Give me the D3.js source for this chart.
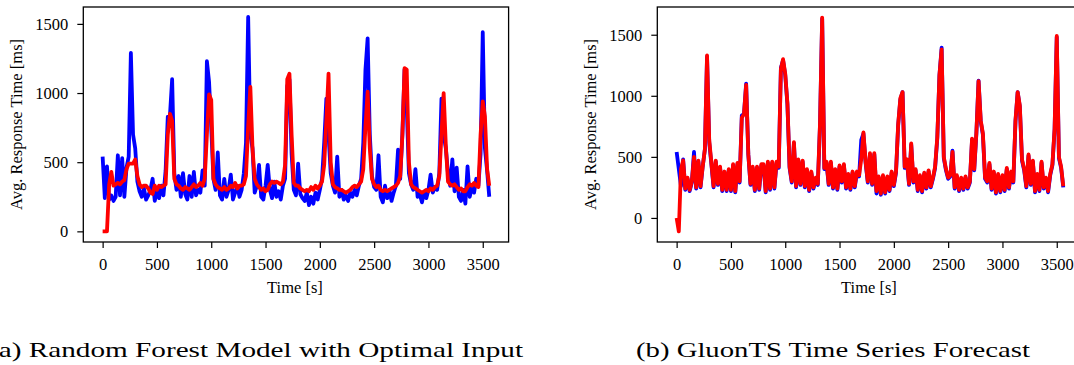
<!DOCTYPE html>
<html>
<head>
<meta charset="utf-8">
<script src="https://cdn.jsdelivr.net/npm/d3@7"></script>
<style>
  body { margin: 0; background: #fff; }
  svg { display: block; }
  text { font-family: "Liberation Serif", "Times New Roman", serif; fill: #000; }
</style>
</head>
<body>
<div id="chart"></div>
<script>

// sample step is 20 s, from 0 to 3560 s
var step = 20;

// (a) random forest: measured (blue) and predicted (red) response time [ms]
var rfActual = [
  540, 240, 470, 230, 260, 220, 250, 550, 260, 530,
  250, 460, 540, 1290, 700, 600, 360, 290, 250, 310,
  230, 260, 300, 380, 220, 300, 240, 330, 260, 440,
  830, 840, 1100, 420, 300, 400, 250, 420, 270, 230,
  400, 250, 430, 260, 300, 280, 440, 330, 1230, 1080,
  750, 380, 300, 570, 260, 230, 380, 250, 300, 410,
  230, 280, 330, 250, 300, 420, 640, 1550, 700, 600,
  280, 330, 480, 250, 230, 330, 480, 300, 240, 360,
  250, 290, 230, 330, 380, 1050, 1100, 560, 300, 260,
  490, 270, 240, 220, 280, 190, 250, 200, 280, 230,
  300, 380, 640, 960, 700, 420, 330, 280, 540, 250,
  300, 230, 260, 220, 280, 250, 300, 260, 330, 380,
  640, 1170, 1395, 700, 400, 320, 300, 550, 250, 210,
  330, 240, 300, 220, 280, 330, 590, 380, 700, 1170,
  900, 420, 340, 300, 450, 250, 270, 210, 280, 240,
  300, 410, 280, 320, 300, 420, 960, 700, 600, 420,
  330, 520, 290, 460, 250, 220, 300, 200, 470, 250,
  320, 280, 380, 330, 560, 1440, 600, 440, 250
];
var rfPredicted = [
  0, 0, 0, 340, 430, 330, 340, 350, 340, 360,
  370, 450, 490, 490, 490, 520, 400, 340, 320, 330,
  330, 310, 280, 270, 330, 300, 330, 320, 330, 340,
  700, 850, 800, 380, 340, 330, 310, 300, 320, 310,
  300, 320, 340, 320, 330, 350, 330, 380, 700, 990,
  950, 380, 340, 320, 310, 300, 320, 300, 310, 330,
  320, 350, 310, 330, 330, 340, 400, 760, 1045, 600,
  380, 340, 320, 300, 310, 290, 300, 340, 360, 350,
  360, 350, 340, 360, 480, 1100, 1140, 700, 350, 330,
  330, 310, 300, 290, 300, 290, 320, 300, 330, 310,
  330, 360, 480, 800, 1140, 500, 340, 320, 310, 300,
  300, 290, 280, 290, 300, 320, 330, 320, 340, 360,
  450, 760, 1010, 600, 380, 340, 320, 330, 300, 290,
  300, 290, 300, 310, 320, 330, 350, 400, 700, 1180,
  1170, 500, 340, 320, 310, 300, 290, 280, 290, 300,
  290, 310, 300, 320, 330, 400, 700, 1000, 620, 360,
  340, 330, 340, 320, 300, 310, 290, 290, 320, 340,
  330, 350, 330, 320, 700, 940, 830, 450, 330
];

// (b) gluonts: measured (blue) and forecast (red) response time [ms]
var gtActual = [
  540, 400, 260, 480, 230, 320, 220, 290, 540, 240,
  460, 250, 420, 560, 1320, 620, 440, 250, 460, 270,
  410, 220, 370, 220, 390, 220, 430, 210, 440, 290,
  840, 850, 1100, 520, 270, 410, 220, 410, 230, 430,
  430, 210, 450, 230, 450, 240, 450, 410, 1230, 1290,
  1170, 930, 410, 290, 610, 250, 470, 270, 460, 250,
  390, 220, 370, 240, 320, 270, 760, 1630, 400, 450,
  270, 450, 240, 390, 230, 420, 290, 430, 240, 350,
  230, 370, 250, 370, 340, 640, 690, 450, 290, 520,
  270, 520, 200, 330, 190, 340, 200, 330, 220, 370,
  260, 370, 760, 970, 1030, 410, 470, 270, 600, 290,
  390, 220, 340, 210, 360, 240, 380, 250, 320, 410,
  650, 1170, 1395, 490, 390, 320, 340, 550, 240, 340,
  220, 320, 230, 330, 240, 290, 640, 390, 690, 1125,
  790, 680, 320, 290, 440, 230, 370, 200, 350, 210,
  340, 220, 400, 240, 370, 290, 790, 1030, 910, 470,
  390, 250, 510, 270, 460, 210, 350, 220, 450, 240,
  320, 210, 350, 430, 720, 1480, 490, 410, 250
];
var gtForecast = [
  0, -110, 400, 470, 240, 330, 230, 300, 500, 250,
  470, 260, 420, 560, 1330, 640, 450, 260, 470, 280,
  420, 230, 380, 230, 400, 230, 440, 220, 450, 300,
  820, 850, 1090, 520, 280, 420, 230, 420, 240, 440,
  440, 220, 460, 240, 460, 250, 460, 420, 1220, 1300,
  1180, 940, 420, 300, 620, 260, 480, 280, 470, 260,
  400, 230, 380, 250, 330, 280, 770, 1640, 410, 460,
  280, 460, 250, 400, 240, 430, 300, 440, 250, 360,
  240, 380, 260, 380, 350, 480, 700, 460, 300, 530,
  280, 530, 220, 340, 200, 350, 210, 340, 230, 380,
  270, 380, 770, 980, 1030, 420, 480, 280, 610, 300,
  400, 230, 350, 220, 370, 250, 390, 260, 330, 420,
  660, 1170, 1380, 500, 400, 330, 350, 540, 250, 350,
  230, 330, 240, 340, 250, 300, 650, 400, 700, 1120,
  800, 690, 330, 300, 450, 240, 380, 210, 360, 220,
  350, 230, 410, 250, 380, 300, 800, 1030, 920, 480,
  400, 260, 520, 280, 470, 220, 360, 230, 460, 250,
  330, 220, 360, 440, 730, 1490, 500, 420, 260
];

var xTicks = [0, 500, 1000, 1500, 2000, 2500, 3000, 3500];
var yTicks = [0, 500, 1000, 1500];
var captions = ["(a) Random Forest Model with Optimal Input", "(b) GluonTS Time Series Forecast"];

var width = 1074, height = 365;

var svg = d3.select("#chart")
  .append("svg")
  .attr("width", width)
  .attr("height", height);

// one panel = frame, two lines, axes and labels
var panels = [
  { left: 83.3, right: 508.6, yDomain: [-77, 1622], actual: rfActual, pred: rfPredicted,
    caption: captions[0], capX: -11, capLen: 534 },
  { left: 657.3, right: 1082.6, yDomain: [-197, 1727], actual: gtActual, pred: gtForecast,
    caption: captions[1], capX: 636, capLen: 394 }
];
var plotTop = 7, plotBottom = 242;

panels.forEach(function(p) {
  var x = d3.scaleLinear().domain([-178, 3738]).range([p.left, p.right]);
  var y = d3.scaleLinear().domain(p.yDomain).range([plotBottom, plotTop]);

  var line = d3.line()
    .x(function(d, i) { return x(i * step); })
    .y(function(d) { return y(d); });

  var g = svg.append("g");

  g.append("path")
    .datum(p.actual)
    .attr("d", line)
    .attr("fill", "none")
    .attr("stroke", "#0000ff")
    .attr("stroke-width", 3.8)
    .attr("stroke-linejoin", "round");

  g.append("path")
    .datum(p.pred)
    .attr("d", line)
    .attr("fill", "none")
    .attr("stroke", "#ff0000")
    .attr("stroke-width", 3.8)
    .attr("stroke-linejoin", "round");

  // frame
  g.append("rect")
    .attr("x", p.left)
    .attr("y", plotTop)
    .attr("width", p.right - p.left)
    .attr("height", plotBottom - plotTop)
    .attr("fill", "none")
    .attr("stroke", "#000")
    .attr("stroke-width", 1.3);

  var xAxis = g.append("g")
    .attr("transform", "translate(0," + plotBottom + ")")
    .call(d3.axisBottom(x).tickValues(xTicks).tickFormat(d3.format("d"))
      .tickSize(6).tickSizeOuter(0).tickPadding(10));
  var yAxis = g.append("g")
    .attr("transform", "translate(" + p.left + ",0)")
    .call(d3.axisLeft(y).tickValues(yTicks).tickFormat(d3.format("d"))
      .tickSize(6).tickSizeOuter(0).tickPadding(9));

  [xAxis, yAxis].forEach(function(a) {
    a.select(".domain").remove();
    a.selectAll("line").attr("stroke", "#000").attr("stroke-width", 1.2);
    a.selectAll("text")
      .attr("fill", "#000")
      .style("font-family", "'Liberation Serif', serif")
      .style("font-size", "16.5px");
  });

  // axis titles
  g.append("text")
    .attr("x", (p.left + p.right) / 2 - 1)
    .attr("y", 293)
    .attr("text-anchor", "middle")
    .style("font-size", "16.5px")
    .text("Time [s]");

  g.append("text")
    .attr("transform", "translate(" + (p.left - 67) + "," + ((plotTop + plotBottom) / 2) + ") rotate(-90)")
    .attr("text-anchor", "middle")
    .attr("dominant-baseline", "central")
    .style("font-size", "16.5px")
    .text("Avg. Response Time [ms]");

  // sub-figure caption
  svg.append("text")
    .attr("x", p.capX)
    .attr("y", 357)
    .attr("textLength", p.capLen)
    .attr("lengthAdjust", "spacingAndGlyphs")
    .style("font-size", "22px")
    .text(p.caption);
});

</script>
</body>
</html>
